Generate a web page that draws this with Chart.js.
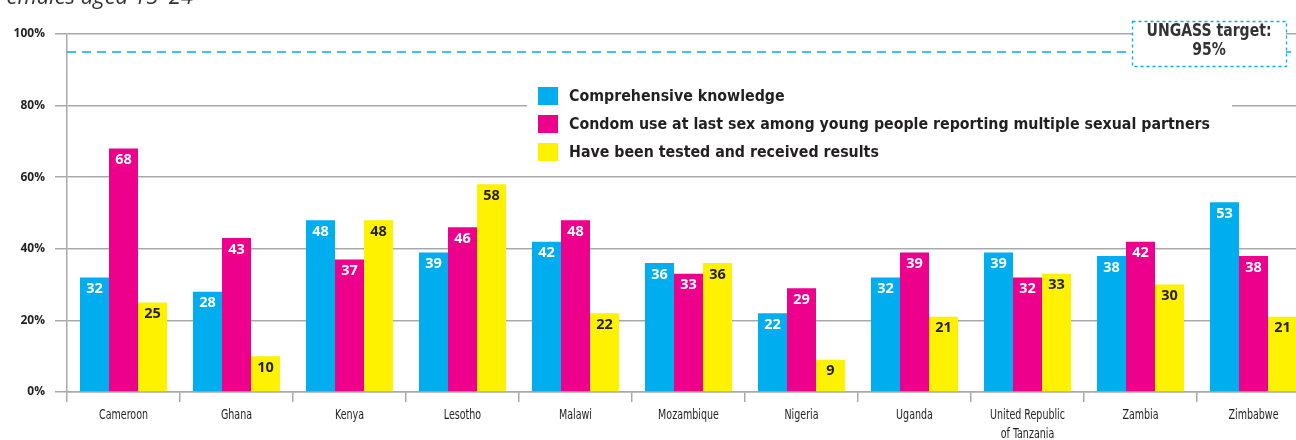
<!DOCTYPE html>
<html>
<head>
<meta charset="utf-8">
<script src="https://cdn.jsdelivr.net/npm/chart.js@4/dist/chart.umd.min.js"></script>
<style>
  html, body { margin: 0; padding: 0; background: #fff; overflow: hidden; width: 1296px; height: 440px; }
  #wrap { position: relative; width: 1296px; height: 440px; overflow: hidden; }
  canvas { display: block; }
</style>
</head>
<body>
<div id="wrap"><canvas id="c" width="1320" height="440" style="width:1320px;height:440px"></canvas></div>
<script>
const categories = ['Cameroon', 'Ghana', 'Kenya', 'Lesotho', 'Malawi', 'Mozambique', 'Nigeria', 'Uganda', ['United Republic', 'of Tanzania'], 'Zambia', 'Zimbabwe'];
const seriesNames = ['Comprehensive knowledge', 'Condom use at last sex among young people reporting multiple sexual partners', 'Have been tested and received results'];
const knowledge = [32, 28, 48, 39, 42, 36, 22, 32, 39, 38, 53];
const condomUse = [68, 43, 37, 46, 48, 33, 29, 39, 32, 42, 38];
const tested = [25, 10, 48, 58, 22, 36, 9, 21, 33, 30, 21];
const yTicks = [0, 20, 40, 60, 80, 100];
const targetValue = 95;
const targetLabel = ['UNGASS target:', '95%'];
const title = 'Females aged 15–24';

const colors = ['#00aeef', '#ec008c', '#fff200'];
const labelColors = ['#ffffff', '#ffffff', '#231f20'];
const gridColor = '#a7a9ac';
const textColor = '#231f20';
const condensed = '"DejaVu Sans Condensed", "DejaVu Sans", sans-serif';

const overlay = {
  id: 'overlay',
  beforeDatasetsDraw(chart) {
    const ctx = chart.ctx;
    const y = chart.scales.y;
    const area = chart.chartArea;
    const ty = y.getPixelForValue(targetValue);
    ctx.save();
    ctx.strokeStyle = '#00aeef';
    ctx.lineWidth = 1.5;
    ctx.setLineDash([9, 6]);
    ctx.beginPath();
    ctx.moveTo(area.left, ty);
    ctx.lineTo(chart.width, ty);
    ctx.stroke();
    ctx.restore();
    ctx.save();
    ctx.fillStyle = '#ffffff';
    ctx.fillRect(527, 78, 705, 90);
    ctx.restore();
  },
  afterDatasetsDraw(chart) {
    const ctx = chart.ctx;
    // value labels
    ctx.save();
    ctx.font = 'bold 14.5px "Open Sans", sans-serif';
    ctx.textAlign = 'center';
    ctx.textBaseline = 'middle';
    chart.data.datasets.forEach((ds, i) => {
      const meta = chart.getDatasetMeta(i);
      meta.data.forEach((el, j) => {
        ctx.fillStyle = labelColors[i];
        ctx.fillText(String(ds.data[j]), el.x, el.y + 11.5);
      });
    });
    ctx.restore();

    // x category labels (condensed), placed through the x scale
    const xs = chart.scales.x;
    ctx.save();
    ctx.font = '14.5px ' + condensed;
    ctx.fillStyle = textColor;
    ctx.textAlign = 'center';
    ctx.textBaseline = 'middle';
    const lx = 49 / ctx.measureText('Cameroon').width;
    categories.forEach((lab, i) => {
      const lines = Array.isArray(lab) ? lab : [lab];
      const cx = xs.getPixelForValue(i);
      lines.forEach((t, k) => {
        ctx.save();
        ctx.translate(cx, chart.chartArea.bottom + 23 + k * 19);
        ctx.scale(lx, 1);
        ctx.fillText(t, 0, 0);
        ctx.restore();
      });
    });
    ctx.restore();

    // legend
    ctx.save();
    ctx.font = 'bold 16px ' + condensed;
    ctx.textBaseline = 'middle';
    ctx.textAlign = 'left';
    const sx = 641 / ctx.measureText(seriesNames[1]).width;
    seriesNames.forEach((name, i) => {
      const cy = 96 + i * 28;
      ctx.fillStyle = colors[i];
      ctx.fillRect(538, cy - 9, 20, 18);
      ctx.fillStyle = textColor;
      ctx.save();
      ctx.translate(569, cy + 1);
      ctx.scale(sx, 1);
      ctx.fillText(name, 0, 0);
      ctx.restore();
    });
    ctx.restore();

    // target box
    ctx.save();
    ctx.fillStyle = '#ffffff';
    ctx.fillRect(1132, 21, 154, 45);
    ctx.strokeStyle = '#00aeef';
    ctx.lineWidth = 1.3;
    ctx.setLineDash([3, 3]);
    ctx.strokeRect(1132.5, 21.5, 154, 45);
    ctx.setLineDash([]);
    ctx.fillStyle = '#333333';
    ctx.font = 'bold 17px ' + condensed;
    ctx.textAlign = 'center';
    ctx.textBaseline = 'middle';
    const tx = 125 / ctx.measureText(targetLabel[0]).width;
    targetLabel.forEach((t, i) => {
      ctx.save();
      ctx.translate(1209, 32 + i * 18.5);
      ctx.scale(tx, 1);
      ctx.fillText(t, 0, 0);
      ctx.restore();
    });
    ctx.restore();

    // title (cut off at top)
    ctx.save();
    ctx.fillStyle = '#333333';
    ctx.font = 'italic 22px "Open Sans", sans-serif';
    ctx.textAlign = 'left';
    ctx.textBaseline = 'alphabetic';
    ctx.fillText(title, -4, 3.5);
    ctx.restore();
  }
};

new Chart(document.getElementById('c'), {
  type: 'bar',
  data: {
    labels: categories,
    datasets: [
      { label: seriesNames[0], data: knowledge, backgroundColor: colors[0] },
      { label: seriesNames[1], data: condomUse, backgroundColor: colors[1] },
      { label: seriesNames[2], data: tested, backgroundColor: colors[2] }
    ]
  },
  options: {
    responsive: false,
    animation: false,
    devicePixelRatio: 1,
    layout: { padding: { top: 34, right: 10, left: 0, bottom: 0 } },
    datasets: { bar: { categoryPercentage: 0.77, barPercentage: 1.0, borderWidth: 0 } },
    plugins: { legend: { display: false }, tooltip: { enabled: false }, title: { display: false } },
    scales: {
      x: {
        grid: { offset: true, drawOnChartArea: false, drawTicks: true, tickLength: 10, color: gridColor, lineWidth: 1.5 },
        border: { display: true, color: gridColor, width: 1.5 },
        ticks: { display: false },
        afterFit(s) { s.height = 48; }
      },
      y: {
        min: 0, max: 100,
        afterBuildTicks(s) { s.ticks = yTicks.map(v => ({ value: v })); },
        grid: { color: gridColor, lineWidth: 1.5, tickLength: 12, drawTicks: true },
        border: { display: true, color: gridColor, width: 1.5 },
        ticks: { color: textColor, font: { family: '"Open Sans", sans-serif', size: 12, weight: 'bold' }, padding: 10, callback: v => v + '%' },
        afterFit(s) { s.width = 67; }
      }
    }
  },
  plugins: [overlay]
});
</script>
</body>
</html>
